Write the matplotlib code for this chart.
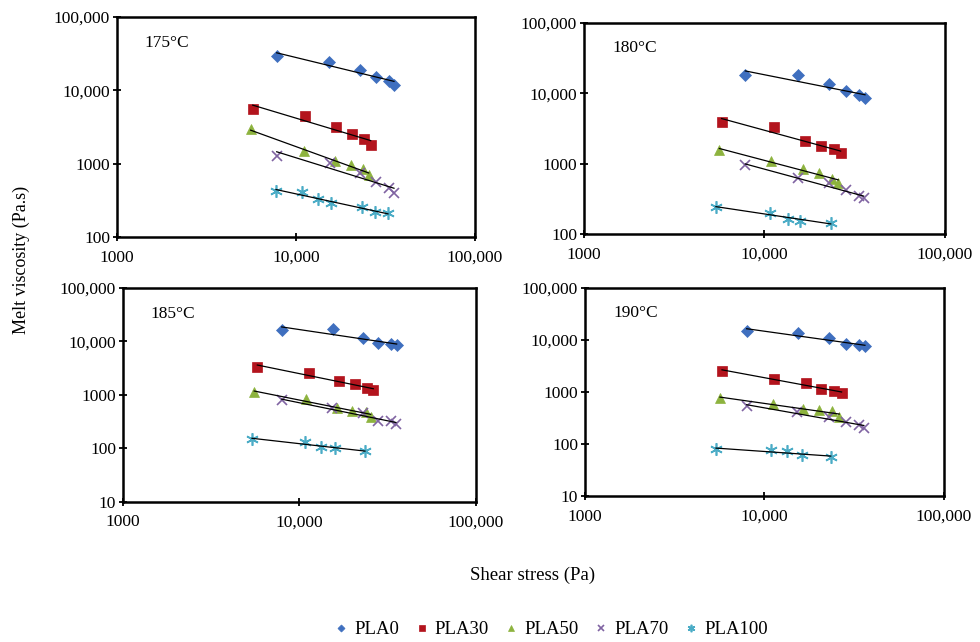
import matplotlib
matplotlib.use("Agg")
import matplotlib.pyplot as plt
import numpy as np

plt.rcParams['font.family'] = ['Liberation Serif', 'DejaVu Serif']

# Datos: esfuerzo cortante (Pa) y viscosidad (Pa.s)
series = ['PLA0', 'PLA30', 'PLA50', 'PLA70', 'PLA100']
temps = ['175°C', '180°C', '185°C', '190°C']

stress_175 = [[7800, 15350, 22780, 27980, 32970, 35270],
              [5730, 11270, 16730, 20560, 23990, 26140],
              [5580, 11070, 16440, 20210, 23600, 25480],
              [7800, 15450, 22780, 27980, 32970, 35270],
              [7730, 10800, 13260, 15590, 23400, 27590, 32650]]
visc_175 = [[29600, 24500, 18900, 15340, 13520, 11900],
            [5610, 4450, 3130, 2530, 2190, 1780],
            [2940, 1470, 1097, 948, 852, 706],
            [1270, 1030, 740, 560, 465, 400],
            [427, 410, 326, 293, 254, 219, 210]]

stress_180 = [[7830, 15390, 22850, 28160, 33510, 36030],
              [5790, 11300, 16840, 20470, 24260, 26420],
              [5620, 10870, 16400, 19950, 23550, 25610],
              [7830, 15390, 22850, 28160, 33510, 35400],
              [5380, 10720, 13540, 15730, 23280]]
visc_180 = [[18030, 18030, 13560, 10660, 9460, 8490],
            [3950, 3280, 2100, 1780, 1600, 1400],
            [1560, 1100, 846, 742, 610, 535],
            [955, 618, 525, 422, 346, 321],
            [244, 200, 164, 154, 144]]

stress_185 = [[7930, 15420, 23000, 27750, 32980, 35530],
              [5770, 11270, 16670, 20540, 24040, 26190],
              [5540, 10890, 16250, 19910, 23710, 25310],
              [7930, 15200, 23000, 27750, 32980, 35200],
              [5380, 10790, 13180, 15960, 23500]]
visc_185 = [[16520, 17010, 11550, 9310, 9040, 8660],
            [3400, 2550, 1830, 1590, 1340, 1240],
            [1120, 842, 578, 508, 487, 392],
            [800, 564, 454, 330, 330, 290],
            [150, 133, 107, 100, 89]]

stress_190 = [[7960, 15420, 22960, 28310, 33740, 36300],
              [5800, 11300, 17020, 20550, 24370, 26900],
              [5650, 11120, 16450, 20030, 23880, 26100],
              [7960, 15120, 22960, 28310, 33740, 35800],
              [5370, 10870, 13400, 16110, 23400]]
visc_190 = [[14890, 13870, 10920, 8380, 7910, 7560],
            [2540, 1810, 1520, 1130, 1060, 945],
            [767, 598, 480, 445, 425, 330],
            [531, 412, 330, 265, 236, 203],
            [79, 76, 72, 61, 56]]

x_ticks = [1000, 10000, 100000]
x_labels = ['1000', '10,000', '100,000']
y_ticks = [10, 100, 1000, 10000, 100000]
y_labels = ['10', '100', '1000', '10,000', '100,000']

colores = ['#3F6FBF', '#B3141D', '#8DB33E', '#8064A2', '#4BACC6']
marcadores = ['D', 's', '^', 'x', (6, 2, 0)]
tamanos = [6, 7, 7, 7, 9]

fig = plt.figure(figsize=(9.8, 6.42), dpi=100)

# posiciones de los cuatro paneles [left, bottom, width, height]
pos = [[0.1194, 0.6308, 0.3653, 0.3427],
       [0.5959, 0.6355, 0.3684, 0.3287],
       [0.1255, 0.2181, 0.3602, 0.3333],
       [0.5969, 0.2274, 0.3663, 0.3240]]
ylims = [(100, 100000), (100, 100000), (10, 100000), (10, 100000)]
datos = [(stress_175, visc_175), (stress_180, visc_180),
         (stress_185, visc_185), (stress_190, visc_190)]

for k in range(4):
    ax = fig.add_axes(pos[k])
    stress, visc = datos[k]
    for i in range(5):
        x = np.array(stress[i], dtype=float)
        y = np.array(visc[i], dtype=float)
        # linea de tendencia potencial
        m, b = np.polyfit(np.log10(x), np.log10(y), 1)
        xf = np.array([x.min(), x.max()])
        ax.plot(xf, 10 ** (m * np.log10(xf) + b), color='black', lw=0.9, zorder=3)
        ax.plot(x, y, linestyle='none', marker=marcadores[i], ms=tamanos[i],
                color=colores[i], mec=colores[i], mew=1.2 if i >= 3 else 0.5,
                label=series[i], zorder=2)
    ax.set_xscale('log')
    ax.set_yscale('log')
    ax.set_xlim(1000, 100000)
    ax.set_ylim(*ylims[k])
    ax.set_xticks(x_ticks)
    ax.set_xticklabels(x_labels)
    yt = [t for t in y_ticks if ylims[k][0] <= t <= ylims[k][1]]
    ax.set_yticks(yt)
    ax.set_yticklabels([y_labels[y_ticks.index(t)] for t in yt])
    ax.minorticks_off()
    ax.tick_params(direction='inout', length=6, width=1.3, labelsize=12.5)
    ax.tick_params(axis='x', pad=6)
    ax.tick_params(axis='y', pad=2)
    for s in ax.spines.values():
        s.set_linewidth(1.8)
    ax.text(0.078, 0.88, temps[k], transform=ax.transAxes, fontsize=12.5,
            va='center', ha='left')
    if k == 0:
        handles, labels = ax.get_legend_handles_labels()

fig.text(0.022, 0.595, 'Melt viscosity (Pa.s)', rotation=90, fontsize=13,
         ha='center', va='center')
fig.text(0.543, 0.104, 'Shear stress (Pa)', fontsize=13.5, ha='center', va='center')

fig.legend(handles, labels, loc='center', bbox_to_anchor=(0.563, 0.019), ncol=5,
           frameon=False, fontsize=13.5, markerscale=0.6, handletextpad=0.4,
           columnspacing=0.9, handlelength=0.6)

fig.savefig('out.png', dpi=100)
